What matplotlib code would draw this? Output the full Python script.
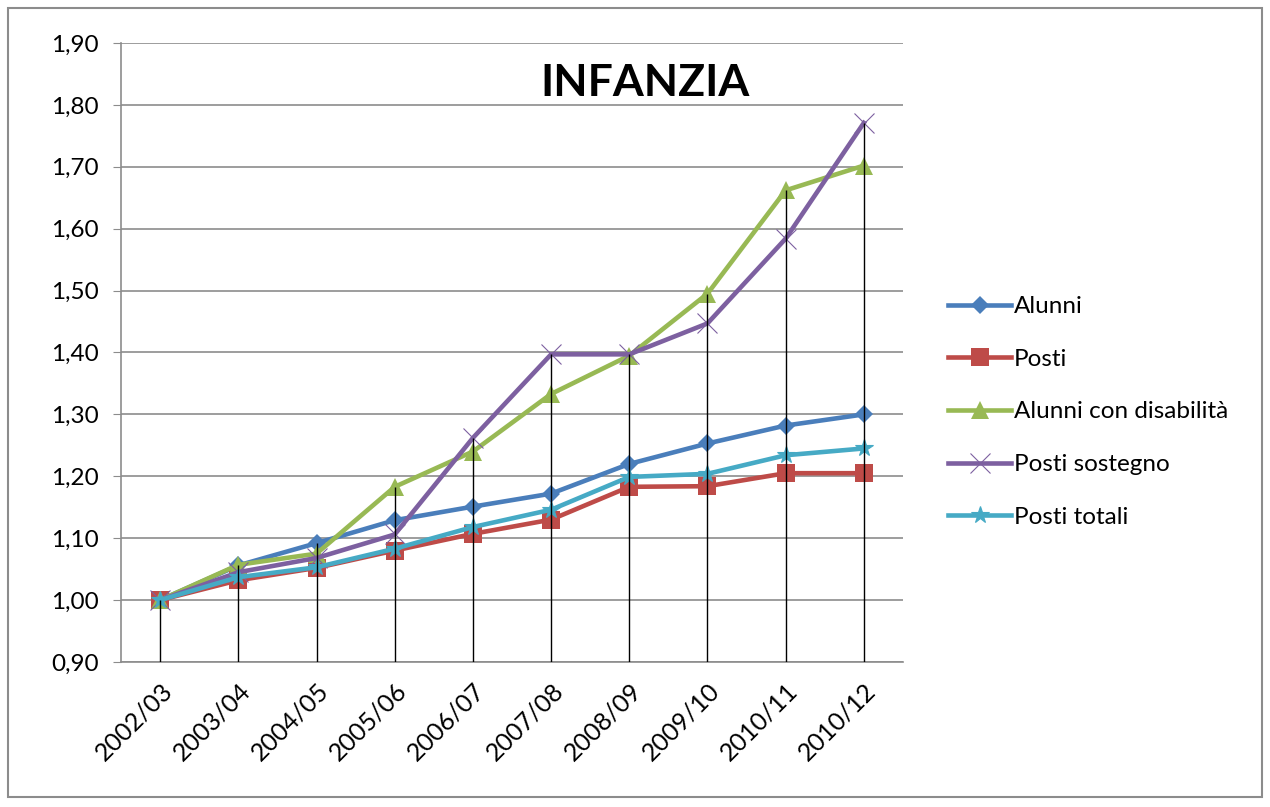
import matplotlib.pyplot as plt
from matplotlib.patches import Rectangle
from matplotlib.ticker import FuncFormatter

# ----------------------------
# Data
# ----------------------------

years = ["2002/03", "2003/04", "2004/05", "2005/06", "2006/07",
         "2007/08", "2008/09", "2009/10", "2010/11", "2010/12"]

alunni = [1.00, 1.056, 1.092, 1.129, 1.151, 1.172, 1.220, 1.253, 1.282, 1.300]
posti = [1.00, 1.032, 1.052, 1.080, 1.107, 1.130, 1.183, 1.184, 1.205, 1.205]
alunni_disab = [1.00, 1.057, 1.075, 1.183, 1.240, 1.333, 1.395, 1.495, 1.662, 1.702]
posti_sostegno = [1.00, 1.045, 1.068, 1.106, 1.262, 1.397, 1.397, 1.447, 1.584, 1.771]
posti_totali = [1.00, 1.037, 1.053, 1.083, 1.118, 1.146, 1.199, 1.204, 1.234, 1.245]

series = [
    ("Alunni", alunni, "#4A7EBB", "D", 9),
    ("Posti", posti, "#BE4B48", "s", 13),
    ("Alunni con disabilità", alunni_disab, "#98B954", "^", 13),
    ("Posti sostegno", posti_sostegno, "#7D60A0", "x", 15),
    ("Posti totali", posti_totali, "#46AAC5", "*", 13),
]

# ----------------------------
# Figure
# ----------------------------

plt.rcParams['font.family'] = ['Lato', 'DejaVu Sans']

fig = plt.figure(figsize=(12.7, 8.07), dpi=100)
ax = fig.add_axes([0.0953, 0.1797, 0.6157, 0.767])

fig.patches.append(Rectangle((0.006, 0.012), 0.988, 0.978, transform=fig.transFigure,
                             fill=False, edgecolor="#8C8C8C", linewidth=1.5))

x = list(range(len(years)))

for label, vals, color, marker, ms in series:
    if marker in ("x", "*"):
        ax.plot(x, vals, color=color, lw=3.3, marker=marker, ms=ms,
                markeredgewidth=0.8, markeredgecolor=color, label=label, zorder=3)
    else:
        ax.plot(x, vals, color=color, lw=3.3, marker=marker, ms=ms,
                markeredgewidth=0, label=label, zorder=3)

# drop lines from the highest point of each year down to the axis
tops = [max(v) for v in zip(alunni, posti, alunni_disab, posti_sostegno, posti_totali)]
ax.vlines(x, 0.90, tops, colors="black", linewidth=1.0, zorder=4)

ax.set_xlim(-0.5, len(years) - 0.5)
ax.set_ylim(0.90, 1.90)
ax.set_yticks([0.90 + 0.1 * i for i in range(11)])
ax.yaxis.set_major_formatter(FuncFormatter(lambda v, p: f"{v:.2f}".replace(".", ",")))
ax.set_xticks(x)
ax.set_xticklabels(years, rotation=45, ha="right", rotation_mode="anchor")

ax.grid(axis="y", color="#8C8C8C", linewidth=1.2)
ax.set_axisbelow(True)
for side in ("top", "right"):
    ax.spines[side].set_visible(False)
for side in ("left", "bottom"):
    ax.spines[side].set_color("#8C8C8C")
    ax.spines[side].set_linewidth(1.2)

ax.tick_params(axis="y", labelsize=17.5, length=6, color="#8C8C8C", pad=10)
ax.tick_params(axis="x", labelsize=18, length=0, pad=12)

ax.text(0.67, 0.968, "INFANZIA", transform=ax.transAxes, ha="center", va="top",
        fontsize=32, fontweight="bold")

ax.legend(loc="center left", bbox_to_anchor=(1.03, 0.404), frameon=False,
          fontsize=17.5, handlelength=2.6, handletextpad=0.1, labelspacing=1.3)

fig.savefig("out.png", dpi=100)
